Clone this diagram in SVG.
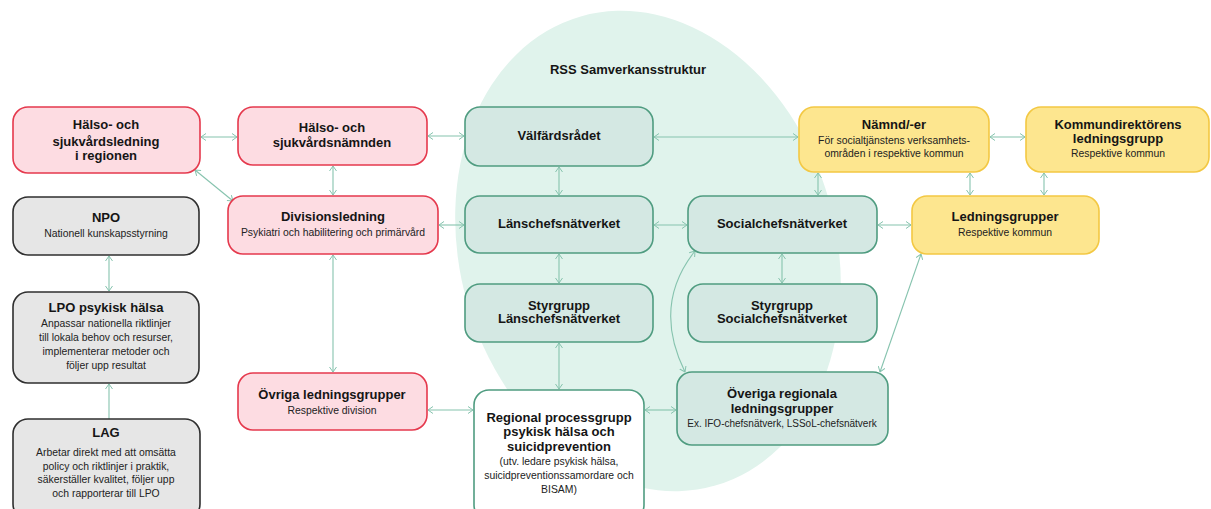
<svg xmlns="http://www.w3.org/2000/svg" width="1211" height="509" viewBox="0 0 1211 509">
<style>
text{font-family:"Liberation Sans",Arial,sans-serif;fill:#151515;text-anchor:middle}
.t{font-weight:bold;font-size:13px}
.s{font-size:10.4px;fill:#222}
.pink{fill:#fddce2;stroke:#e5394d;stroke-width:1.6}
.gray{fill:#e6e6e6;stroke:#2f2f2f;stroke-width:1.6}
.teal{fill:#d4e8e3;stroke:#4f9c80;stroke-width:1.6}
.white{fill:#fff;stroke:#4f9c80;stroke-width:1.6}
.yel{fill:#fde68f;stroke:#f3c843;stroke-width:1.6}
.c{fill:none;stroke:#86c3ae;stroke-width:1.1}
</style>
<defs>
<marker id="a" viewBox="0 0 6 8" refX="5.5" refY="4" markerWidth="6" markerHeight="8" markerUnits="userSpaceOnUse" orient="auto-start-reverse">
<path d="M0.5,0.5 L5.5,4 L0.5,7.5" fill="none" stroke="#86c3ae" stroke-width="1"/>
</marker>
</defs>
<rect width="1211" height="509" fill="#fff"/>
<ellipse cx="648" cy="251" rx="188" ry="244" transform="rotate(-16 648 251)" fill="#e0f3ec"/>
<text class="t" x="628" y="74">RSS Samverkansstruktur</text>

<g id="connectors">
<line class="c" x1="201" y1="137" x2="237" y2="137" marker-start="url(#a)" marker-end="url(#a)"/>
<line class="c" x1="195" y1="170" x2="233" y2="201" marker-start="url(#a)" marker-end="url(#a)"/>
<line class="c" x1="333" y1="166" x2="333" y2="195" marker-start="url(#a)" marker-end="url(#a)"/>
<line class="c" x1="428" y1="136" x2="464" y2="136" marker-start="url(#a)" marker-end="url(#a)"/>
<line class="c" x1="439" y1="225" x2="464" y2="225" marker-start="url(#a)" marker-end="url(#a)"/>
<line class="c" x1="333" y1="255" x2="333" y2="372" marker-start="url(#a)" marker-end="url(#a)"/>
<line class="c" x1="109" y1="256" x2="109" y2="291" marker-start="url(#a)" marker-end="url(#a)"/>
<line class="c" x1="109" y1="419" x2="109" y2="384" marker-end="url(#a)"/>
<line class="c" x1="428" y1="410" x2="473" y2="410" marker-start="url(#a)" marker-end="url(#a)"/>
<line class="c" x1="559" y1="167" x2="559" y2="195" marker-start="url(#a)" marker-end="url(#a)"/>
<line class="c" x1="559" y1="254" x2="559" y2="283" marker-start="url(#a)" marker-end="url(#a)"/>
<line class="c" x1="559" y1="343" x2="559" y2="389" marker-start="url(#a)" marker-end="url(#a)"/>
<line class="c" x1="654" y1="137" x2="798" y2="137" marker-start="url(#a)" marker-end="url(#a)"/>
<line class="c" x1="654" y1="225" x2="687" y2="225" marker-start="url(#a)" marker-end="url(#a)"/>
<line class="c" x1="878" y1="225" x2="911" y2="225" marker-start="url(#a)" marker-end="url(#a)"/>
<line class="c" x1="782" y1="254" x2="782" y2="283" marker-start="url(#a)" marker-end="url(#a)"/>
<line class="c" x1="818" y1="173" x2="818" y2="195" marker-start="url(#a)" marker-end="url(#a)"/>
<line class="c" x1="970" y1="173" x2="970" y2="195" marker-start="url(#a)" marker-end="url(#a)"/>
<line class="c" x1="1044" y1="173" x2="1044" y2="195" marker-start="url(#a)" marker-end="url(#a)"/>
<line class="c" x1="990" y1="137" x2="1025" y2="137" marker-start="url(#a)" marker-end="url(#a)"/>
<path class="c" d="M695,251 Q652,305 685,372" marker-start="url(#a)" marker-end="url(#a)"/>
<line class="c" x1="921" y1="254" x2="880" y2="372" marker-start="url(#a)" marker-end="url(#a)"/>
<line class="c" x1="645" y1="410" x2="676" y2="410" marker-start="url(#a)" marker-end="url(#a)"/>
</g>

<g id="hs-ledning"><rect class="pink" x="13" y="107" width="187" height="66" rx="15"/>
<text class="t" x="106" y="129">Hälso- och</text><text class="t" x="106" y="146">sjukvårdsledning</text><text class="t" x="106" y="160">i regionen</text></g>

<g id="hs-namnden"><rect class="pink" x="238" y="107" width="189" height="58" rx="15"/>
<text class="t" x="332" y="132">Hälso- och</text><text class="t" x="332" y="147">sjukvårdsnämnden</text></g>

<g id="divisionsledning"><rect class="pink" x="228" y="196" width="210" height="58" rx="15"/>
<text class="t" x="333" y="221">Divisionsledning</text><text class="s" x="333" y="236">Psykiatri och habilitering och primärvård</text></g>

<g id="npo"><rect class="gray" x="13" y="197" width="186" height="58" rx="15"/>
<text class="t" x="106" y="222">NPO</text><text class="s" x="106" y="237">Nationell kunskapsstyrning</text></g>

<g id="lpo"><rect class="gray" x="13" y="292" width="186" height="91" rx="15"/>
<text class="t" x="106" y="312">LPO psykisk hälsa</text>
<text class="s" x="106" y="326.5">Anpassar nationella riktlinjer</text>
<text class="s" x="106" y="340.5">till lokala behov och resurser,</text>
<text class="s" x="106" y="354.5">implementerar metoder och</text>
<text class="s" x="106" y="368.5">följer upp resultat</text></g>

<g id="lag"><rect class="gray" x="13" y="419" width="187" height="100" rx="15"/>
<text class="t" x="106" y="437">LAG</text>
<text class="s" x="106" y="456">Arbetar direkt med att omsätta</text>
<text class="s" x="106" y="469.5">policy och riktlinjer i praktik,</text>
<text class="s" x="106" y="483">säkerställer kvalitet, följer upp</text>
<text class="s" x="106" y="496.5">och rapporterar till LPO</text></g>

<g id="ovriga-ledningsgrupper"><rect class="pink" x="238" y="373" width="189" height="57" rx="15"/>
<text class="t" x="332" y="399">Övriga ledningsgrupper</text><text class="s" x="332" y="414">Respektive division</text></g>

<g id="regional-processgrupp"><rect class="white" x="474" y="390" width="170" height="130" rx="15"/>
<text class="t" x="559" y="422">Regional processgrupp</text>
<text class="t" x="559" y="436">psykisk hälsa och</text>
<text class="t" x="559" y="451">suicidprevention</text>
<text class="s" x="559" y="465">(utv. ledare psykisk hälsa,</text>
<text class="s" x="559" y="479">suicidpreventionssamordare och</text>
<text class="s" x="559" y="493">BISAM)</text></g>

<g id="valfardsradet"><rect class="teal" x="465" y="107" width="188" height="59" rx="15"/>
<text class="t" x="559" y="140">Välfärdsrådet</text></g>

<g id="lanschefsnatverket"><rect class="teal" x="465" y="196" width="188" height="57" rx="15"/>
<text class="t" x="559" y="228">Länschefsnätverket</text></g>

<g id="styrgrupp-lans"><rect class="teal" x="465" y="284" width="188" height="58" rx="15"/>
<text class="t" x="559" y="310">Styrgrupp</text><text class="t" x="559" y="323">Länschefsnätverket</text></g>

<g id="socialchefsnatverket"><rect class="teal" x="688" y="196" width="189" height="57" rx="15"/>
<text class="t" x="782" y="228">Socialchefsnätverket</text></g>

<g id="styrgrupp-social"><rect class="teal" x="688" y="284" width="189" height="58" rx="15"/>
<text class="t" x="782" y="310">Styrgrupp</text><text class="t" x="782" y="323">Socialchefsnätverket</text></g>

<g id="overiga-regionala"><rect class="teal" x="677" y="372" width="211" height="73" rx="15"/>
<text class="t" x="782" y="398">Överiga regionala</text><text class="t" x="782" y="413">ledningsgrupper</text>
<text class="s" x="782" y="427" style="font-size:10px">Ex. IFO-chefsnätverk, LSSoL-chefsnätverk</text></g>

<g id="namnder"><rect class="yel" x="799" y="107" width="190" height="65" rx="15"/>
<text class="t" x="894" y="129">Nämnd/-er</text>
<text class="s" x="894" y="144">För socialtjänstens verksamhets-</text>
<text class="s" x="894" y="157">områden i respektive kommun</text></g>

<g id="kommundirektorens"><rect class="yel" x="1026" y="107" width="183" height="65" rx="15"/>
<text class="t" x="1118" y="129">Kommundirektörens</text><text class="t" x="1118" y="143">ledningsgrupp</text>
<text class="s" x="1118" y="157">Respektive kommun</text></g>

<g id="ledningsgrupper"><rect class="yel" x="912" y="196" width="187" height="58" rx="15"/>
<text class="t" x="1005" y="221">Ledningsgrupper</text><text class="s" x="1005" y="236">Respektive kommun</text></g>
</svg>
